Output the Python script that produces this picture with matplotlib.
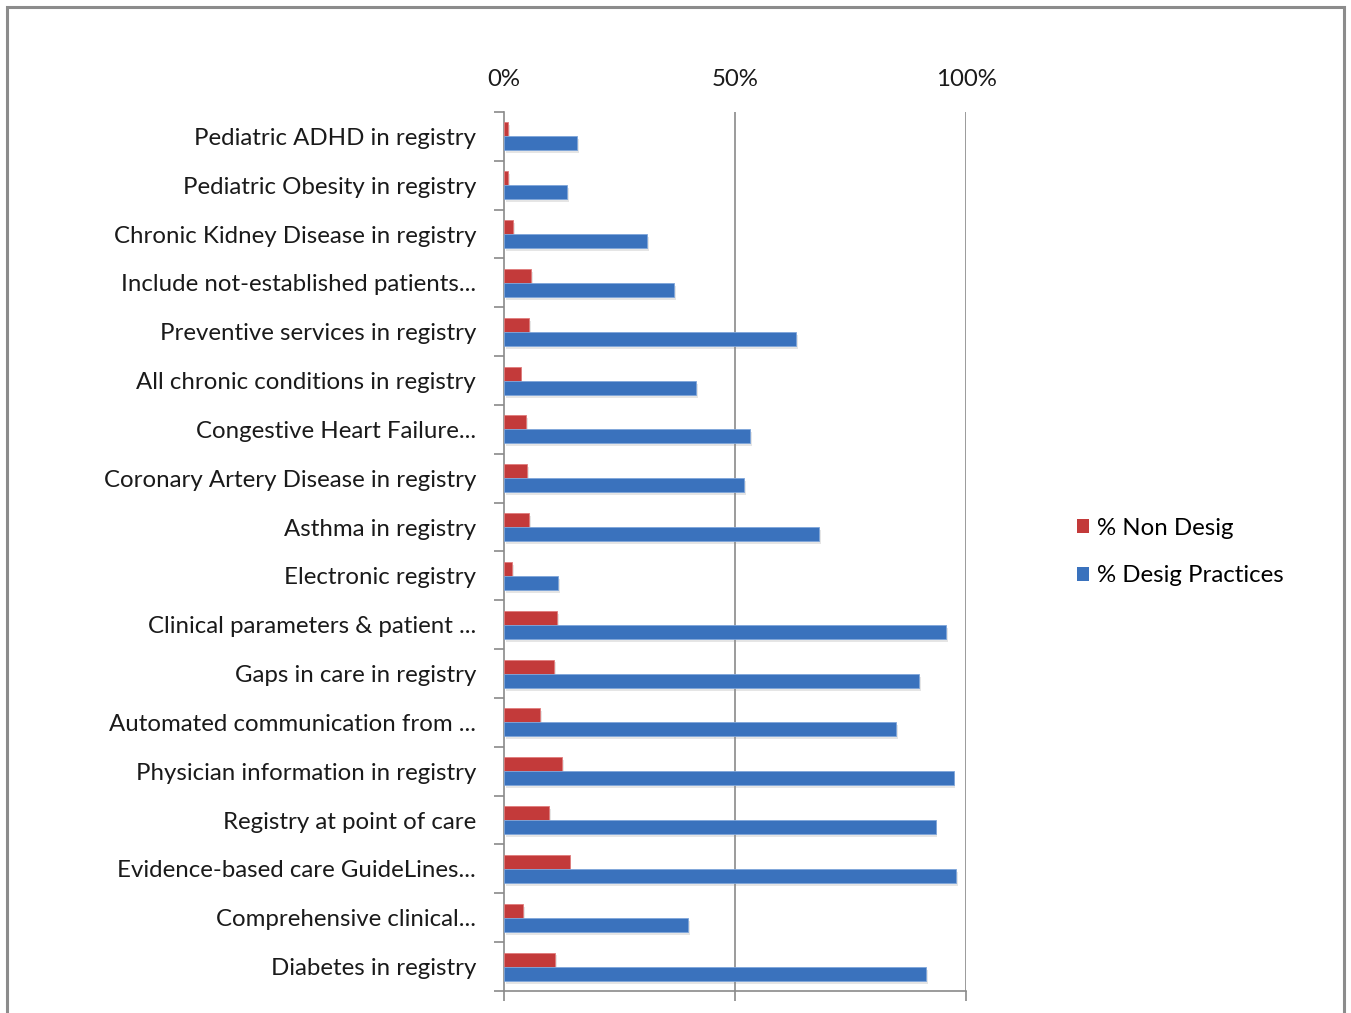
import numpy as np
import matplotlib
matplotlib.use("Agg")
import matplotlib.pyplot as plt
from matplotlib.patches import Rectangle, Patch

# categories, top to bottom
categories = [
    "Pediatric ADHD in registry",
    "Pediatric Obesity in registry",
    "Chronic Kidney Disease in registry",
    "Include not-established patients...",
    "Preventive services in registry",
    "All chronic conditions in registry",
    "Congestive Heart Failure...",
    "Coronary Artery Disease in registry",
    "Asthma in registry",
    "Electronic registry",
    "Clinical parameters & patient ...",
    "Gaps in care in registry",
    "Automated communication from ...",
    "Physician information in registry",
    "Registry at point of care",
    "Evidence-based care GuideLines...",
    "Comprehensive clinical...",
    "Diabetes in registry",
]
non_desig = [0.9, 0.9, 2.0, 5.9, 5.4, 3.6, 4.7, 5.0, 5.4, 1.7,
             11.4, 10.9, 7.8, 12.6, 9.7, 14.2, 4.2, 11.1]
desig = [15.9, 13.7, 30.9, 36.8, 63.2, 41.5, 53.2, 51.9, 68.2, 11.7,
         95.7, 89.8, 84.8, 97.3, 93.4, 97.9, 39.8, 91.4]
series_names = ["% Non Desig", "% Desig Practices"]
xticks = [0, 50, 100]
xtick_labels = ["0%", "50%", "100%"]

RED = "#C33A3A"
BLUE = "#3A72BD"
GRID = "#8a8a8a"
FS = 17.3

plt.rcParams["font.family"] = ["Lato", "DejaVu Sans"]

W, H = 1351, 1013
fig = plt.figure(figsize=(W / 100, H / 100), dpi=100)
ax = fig.add_axes([504 / W, (H - 991) / H, (966 - 504) / W, (991 - 112) / H])

y = np.arange(len(categories))
bh = 0.287
# soft shadow under the bars
ax.barh(y - bh / 2 + 0.06, non_desig, height=bh, left=0.4, color="#000000", alpha=0.10, zorder=1)
ax.barh(y + bh / 2 + 0.06, desig, height=bh, left=0.4, color="#000000", alpha=0.10, zorder=1)
ax.barh(y - bh / 2, non_desig, height=bh, color=RED, edgecolor="#e07b7b", linewidth=0.6, zorder=3)
ax.barh(y + bh / 2, desig, height=bh, color=BLUE, edgecolor="#7fa6da", linewidth=0.6, zorder=3)

ax.set_xlim(0, 100)
ax.set_ylim(len(categories) - 0.5, -0.5)

ax.set_xticks(xticks)
ax.set_xticklabels(xtick_labels)
ax.tick_params(axis="x", bottom=True, top=False, labelbottom=False, labeltop=True,
               direction="out", length=7, width=1.2, color=GRID, pad=9,
               labelsize=FS, labelcolor="#1a1a1a")
for xv in xticks[1:]:
    ax.axvline(xv, color=GRID, linewidth=1.2, zorder=2)

ax.set_yticks(y)
ax.set_yticklabels(categories)
ax.set_yticks(np.arange(len(categories) + 1) - 0.5, minor=True)
ax.tick_params(axis="y", which="major", length=0, pad=20, labelsize=FS, labelcolor="#1a1a1a")
ax.tick_params(axis="y", which="minor", length=7, width=1.2, color=GRID, direction="out")

for side in ["top", "right"]:
    ax.spines[side].set_visible(False)
for side in ["left", "bottom"]:
    ax.spines[side].set_color(GRID)
    ax.spines[side].set_linewidth(1.2)

handles = [Patch(facecolor=RED), Patch(facecolor=BLUE)]
fig.legend(handles, series_names, loc="center left",
           bbox_to_anchor=(1055 / W, 1 - 552 / H), frameon=False, fontsize=FS,
           handlelength=0.5, handleheight=0.5, handletextpad=0.35, labelspacing=1.1)

# outer chart frame (bottom edge falls outside the image)
fig.patches.append(Rectangle((7 / W, -0.05), (1344 - 7) / W, 1.05 - 7 / H,
                             transform=fig.transFigure, fill=False,
                             edgecolor="#8c8c8c", linewidth=2.2))

fig.savefig("out.png", dpi=100)
